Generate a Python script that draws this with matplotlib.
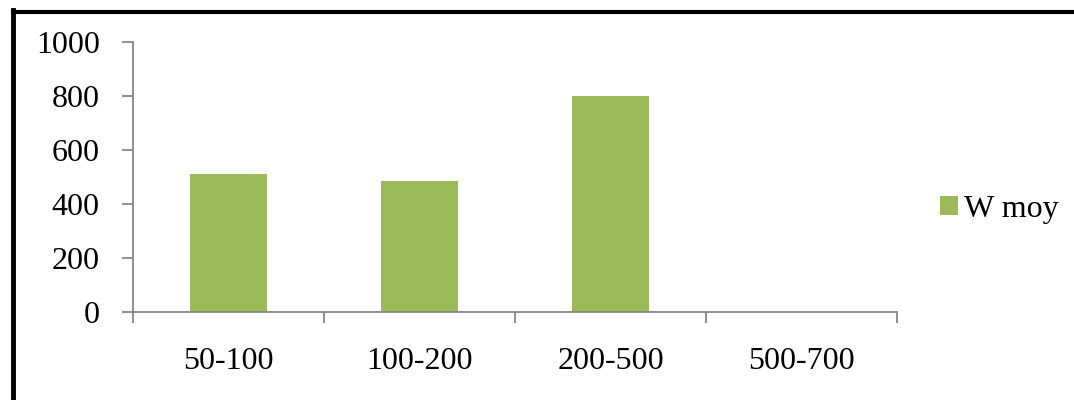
import matplotlib.pyplot as plt
from matplotlib.lines import Line2D

categories = ['50-100', '100-200', '200-500', '500-700']
w_moy = [510, 484, 800, 0]
yticks = [0, 200, 400, 600, 800, 1000]

plt.rcParams['font.family'] = ['Liberation Serif', 'DejaVu Serif']

fig = plt.figure(figsize=(10.74, 4.0), dpi=100)
ax = fig.add_axes([133 / 1074, 1 - 312 / 400, (897 - 133) / 1074, (312 - 42) / 400])

x = range(len(categories))
ax.bar(x, w_moy, width=0.4, color='#9BBB59', label='W moy')

ax.set_xlim(-0.5, len(categories) - 0.5)
ax.set_ylim(0, 1000)
ax.set_yticks(yticks)
ax.set_xticks([i - 0.5 for i in range(len(categories) + 1)], minor=False)
ax.set_xticklabels([''] * (len(categories) + 1))
ax.set_xticks(list(x), minor=True)
ax.set_xticklabels(categories, minor=True)
ax.tick_params(axis='x', which='minor', length=0, pad=25, labelsize=23)
ax.tick_params(axis='x', which='major', length=8, width=1.3, color='#868686', direction='out')
ax.tick_params(axis='y', length=8, width=1.3, color='#868686', direction='out', pad=16, labelsize=23)

for side in ['top', 'right']:
    ax.spines[side].set_visible(False)
for side in ['left', 'bottom']:
    ax.spines[side].set_color('#868686')
    ax.spines[side].set_linewidth(1.3)

leg = ax.legend(loc='center left', bbox_to_anchor=(940 / 1074, 1 - 209 / 400),
                bbox_transform=fig.transFigure, frameon=False, borderpad=0, borderaxespad=0,
                fontsize=23, handlelength=0.55, handleheight=0.55, handletextpad=0.2)

# frame drawn around the chart (left and top edges)
fig.add_artist(Line2D([12.5 / 1074, 12.5 / 1074], [0, 1 - 10 / 400], color='black', lw=3.5,
                      transform=fig.transFigure, solid_capstyle='projecting'))
fig.add_artist(Line2D([12.5 / 1074, 1], [1 - 11.5 / 400, 1 - 11.5 / 400], color='black', lw=3,
                      transform=fig.transFigure))

fig.savefig('out.png', dpi=100)
